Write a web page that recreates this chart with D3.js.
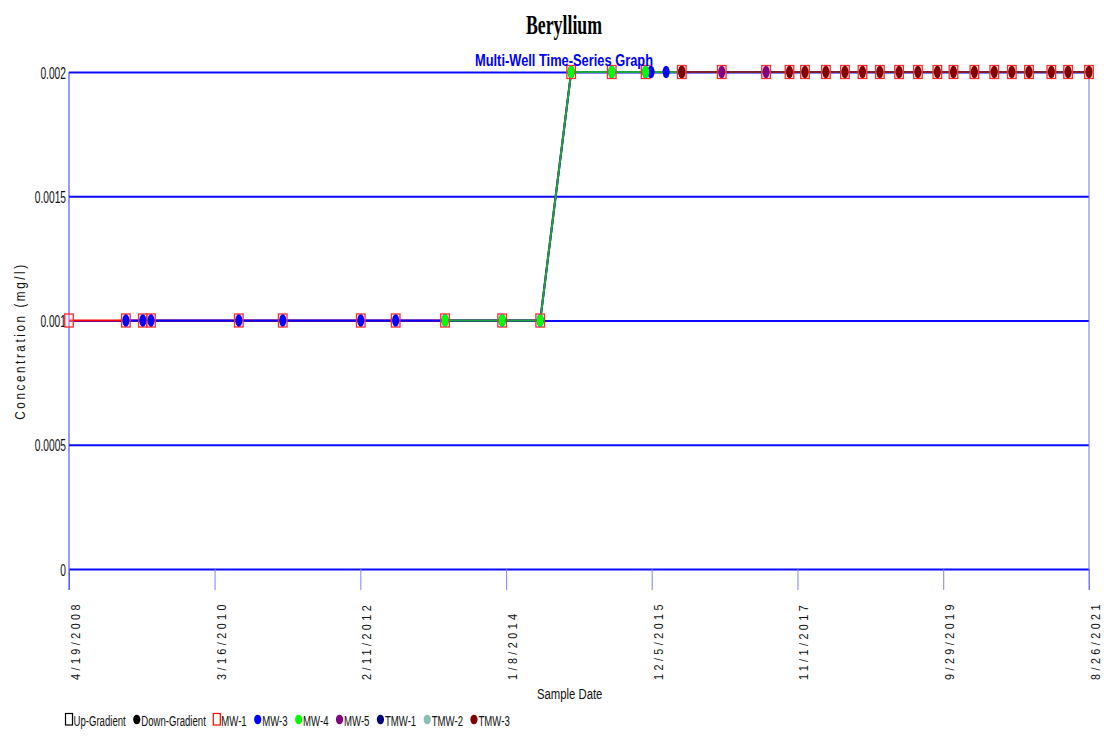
<!DOCTYPE html>
<html><head><meta charset="utf-8">
<script src="https://cdn.jsdelivr.net/npm/d3@7"></script>
<style>body{margin:0;background:#fff}</style></head>
<body><svg id="c" width="1107" height="736"></svg>
<script>
const chartTitle = "Beryllium";
const chartSubtitle = "Multi-Well Time-Series Graph";
const xAxisTitle = "Sample Date";
const yAxisTitle = "Concentration (mg/l)";
const xTickLabels = ["4/19/2008","3/16/2010","2/11/2012","1/8/2014","12/5/2015","11/1/2017","9/29/2019","8/26/2021"];
const yTickValues = [0, 0.0005, 0.001, 0.0015, 0.002];
const yTickLabels = ["0","0.0005","0.001","0.0015","0.002"];

const seriesNames = ["MW-1","MW-3","MW-4","MW-5","TMW-1","TMW-2","TMW-3"];
const seriesColors = ["#ff0000","#0000ff","#00ff00","#800080","#000080","#88c0b8","#800000"];
const seriesLineColors = ["#ff0000","#0000ff","#18a83a","#800080","#000080","#88c0b8","#7a2030"];
const seriesGradient = ["up","down","down","down","down","down","down"];

const mw1Dates = ["2008-04-19","2009-01-16","2009-04-07","2009-05-16","2010-07-10","2011-02-05","2012-02-13","2012-07-29","2013-03-22","2013-12-20","2014-06-20","2014-11-15","2015-05-28","2015-11-06","2016-04-27","2016-11-04","2017-06-04","2017-09-24","2017-12-07","2018-03-17","2018-06-16","2018-09-08","2018-11-30","2019-03-02","2019-05-31","2019-09-01","2019-11-17","2020-02-25","2020-05-30","2020-08-22","2020-11-12","2021-02-27","2021-05-18","2021-08-26"];
const mw1Values = [0.001,0.001,0.001,0.001,0.001,0.001,0.001,0.001,0.001,0.001,0.001,0.002,0.002,0.002,0.002,0.002,0.002,0.002,0.002,0.002,0.002,0.002,0.002,0.002,0.002,0.002,0.002,0.002,0.002,0.002,0.002,0.002,0.002,0.002];
const mw3Dates = ["2009-01-16","2009-04-07","2009-05-16","2010-07-10","2011-02-05","2012-02-13","2012-07-29","2013-03-22","2013-12-20","2014-06-20","2014-11-15","2015-05-28","2015-11-06","2015-12-02","2016-02-12"];
const mw3Values = [0.001,0.001,0.001,0.001,0.001,0.001,0.001,0.001,0.001,0.001,0.002,0.002,0.002,0.002,0.002];
const mw4Dates = ["2013-03-22","2013-12-20","2014-06-20","2014-11-15","2015-05-28","2015-11-06","2016-04-27"];
const mw4Values = [0.001,0.001,0.001,0.002,0.002,0.002,0.002];
const mw5Dates = ["2016-04-27","2016-11-04","2017-06-04"];
const mw5Values = [0.002,0.002,0.002];
const tmw1Dates = [];
const tmw1Values = [];
const tmw2Dates = [];
const tmw2Values = [];
const tmw3Dates = ["2016-04-27","2017-09-24","2017-12-07","2018-03-17","2018-06-16","2018-09-08","2018-11-30","2019-03-02","2019-05-31","2019-09-01","2019-11-17","2020-02-25","2020-05-30","2020-08-22","2020-11-12","2021-02-27","2021-05-18","2021-08-26"];
const tmw3Values = [0.002,0.002,0.002,0.002,0.002,0.002,0.002,0.002,0.002,0.002,0.002,0.002,0.002,0.002,0.002,0.002,0.002,0.002];

const seriesDates = [mw1Dates,mw3Dates,mw4Dates,mw5Dates,tmw1Dates,tmw2Dates,tmw3Dates];
const seriesValues = [mw1Values,mw3Values,mw4Values,mw5Values,tmw1Values,tmw2Values,tmw3Values];

const parseD = d3.timeParse("%Y-%m-%d");
const parseTick = d3.timeParse("%m/%d/%Y");
const series = seriesNames.map((n,i)=>({
  name:n, color:seriesColors[i], lineColor:seriesLineColors[i], grad:seriesGradient[i],
  pts: seriesDates[i].map((d,j)=>({date:parseD(d), value:seriesValues[i][j]}))
}));

const svg = d3.select("#c");
svg.append("rect").attr("width",1107).attr("height",736).attr("fill","#fff");
const SANS = "'Liberation Sans', Arial, sans-serif";

const tickDates = xTickLabels.map(parseTick);
const x = d3.scaleTime().domain([tickDates[0], tickDates[tickDates.length-1]]).range([69,1089]);
const y = d3.scaleLinear().domain([0,0.002]).range([569,72]);

// Y axis with gridlines
const yAx = svg.append("g").attr("transform","translate(69,0)")
  .call(d3.axisLeft(y).tickValues(yTickValues).tickSize(-(x.range()[1]-x.range()[0])).tickPadding(3)
    .tickFormat((d,i)=>yTickLabels[i]));
yAx.select(".domain").remove();
yAx.selectAll(".tick line").attr("stroke","#0a0aff").attr("stroke-width",2);
yAx.selectAll(".tick text").attr("font-family",SANS).attr("font-size",16.5).attr("fill","#111")
  .attr("text-anchor","start").attr("dy",null).attr("y",6)
  .each(function(){
    const w = this.getComputedTextLength()*0.62;
    d3.select(this).attr("textLength",w).attr("lengthAdjust","spacingAndGlyphs").attr("x",-3-w);
  });

// X axis
const xAx = svg.append("g").attr("transform","translate(0,569)")
  .call(d3.axisBottom(x).tickValues(tickDates).tickSize(21).tickFormat((d,i)=>xTickLabels[i]));
xAx.select(".domain").remove();
xAx.selectAll(".tick line").attr("stroke","#8080ff").attr("stroke-width",1);
xAx.selectAll(".tick text").remove();
xAx.selectAll(".tick").append("text")
  .attr("transform","translate(10.5,111) rotate(-90) scale(0.8,1)")
  .attr("font-family",SANS).attr("font-size",13.5).attr("fill","#111")
  .attr("letter-spacing",4.3).attr("text-anchor","start")
  .text((d,i)=>xTickLabels[i]);

// frame lines
svg.append("line").attr("x1",x.range()[0]).attr("x2",x.range()[0]).attr("y1",y(0.002)).attr("y2",590)
  .attr("stroke","#3535ff").attr("stroke-width",1);
svg.append("line").attr("x1",x.range()[1]).attr("x2",x.range()[1]).attr("y1",y(0.002)).attr("y2",590)
  .attr("stroke","#7070ff").attr("stroke-width",1);

// series lines
const line = d3.line().x(d=>x(d.date)).y(d=>y(d.value));
series.forEach(s=>{
  if (s.pts.length<2) return;
  svg.append("path").datum(s.pts).attr("d",line).attr("fill","none")
    .attr("stroke",s.lineColor).attr("stroke-width",2);
});
// markers
series.forEach(s=>{
  const g = svg.append("g");
  if (s.grad==="up"){
    g.selectAll("rect").data(s.pts).join("rect")
      .attr("x",d=>x(d.date)-4.3).attr("y",d=>y(d.value)-6.5).attr("width",8.6).attr("height",13)
      .attr("fill","#ffd8d8").attr("fill-opacity",0.35).attr("stroke","#ff2a2a").attr("stroke-width",1.3);
  } else {
    g.selectAll("ellipse").data(s.pts).join("ellipse")
      .attr("cx",d=>x(d.date)).attr("cy",d=>y(d.value)).attr("rx",3.5).attr("ry",6.2)
      .attr("fill",s.color);
  }
});

// titles
svg.append("text").attr("x",526).attr("y",34).attr("font-family","'Liberation Serif','Times New Roman',serif")
  .attr("font-weight","bold").attr("font-size",28).attr("fill","#000")
  .attr("textLength",76).attr("lengthAdjust","spacingAndGlyphs").text(chartTitle);
svg.append("text").attr("x",475).attr("y",66).attr("font-family",SANS)
  .attr("font-weight","bold").attr("font-size",17).attr("fill","#0000ff")
  .attr("textLength",178).attr("lengthAdjust","spacingAndGlyphs").text(chartSubtitle);
svg.append("text").attr("transform","translate(537,699) scale(0.78,1)").attr("font-family",SANS)
  .attr("font-size",14.5).attr("fill","#111").text(xAxisTitle);
svg.append("text").attr("transform","translate(24.5,341) rotate(-90) scale(0.78,1)")
  .attr("font-family",SANS).attr("font-size",15).attr("fill","#111")
  .attr("letter-spacing",3.3).attr("text-anchor","middle").text(yAxisTitle);

// legend
const legendItems = [{label:"Up-Gradient",type:"sq",color:"#000"},{label:"Down-Gradient",type:"dot",color:"#000"}]
  .concat(series.map(s=>({label:s.name,type:s.grad==="up"?"sq":"dot",color:s.color})));
let cx = 65;
const lg = svg.append("g");
const LF = 0.62;
legendItems.forEach(it=>{
  if (it.type==="sq"){
    lg.append("rect").attr("x",cx+0.5).attr("y",713.5).attr("width",7).attr("height",11.5)
      .attr("fill","none").attr("stroke",it.color).attr("stroke-width",1.2);
  } else {
    lg.append("ellipse").attr("cx",cx+4).attr("cy",719.5).attr("rx",3.6).attr("ry",4.8).attr("fill",it.color);
  }
  const t = lg.append("text").attr("transform",`translate(${cx+8.5},725.5) scale(${LF},1)`)
    .attr("font-family",SANS).attr("font-size",15.5).attr("fill","#111").text(it.label);
  const w = t.node().getComputedTextLength()*LF;
  cx = cx + 8.5 + w + 7;
});
</script></body></html>
